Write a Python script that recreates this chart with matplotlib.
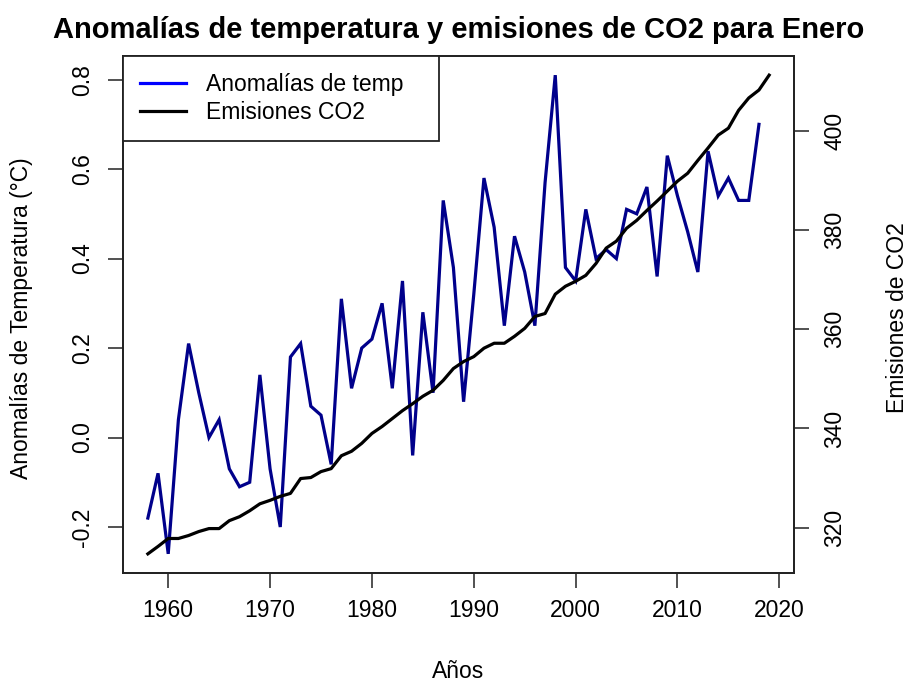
import matplotlib
matplotlib.use('Agg')
import matplotlib.pyplot as plt
from matplotlib.lines import Line2D

plt.rcParams['font.family'] = ['Liberation Sans', 'DejaVu Sans']

# ---------------- data ----------------
years_temp = list(range(1958, 2019))
temp_anom = [-0.18, -0.08, -0.26, 0.04, 0.21, 0.10, 0.00, 0.04, -0.07, -0.11,
             -0.10, 0.14, -0.07, -0.20, 0.18, 0.21, 0.07, 0.05, -0.06, 0.31,
             0.11, 0.20, 0.22, 0.30, 0.11, 0.35, -0.04, 0.28, 0.10, 0.53,
             0.38, 0.08, 0.32, 0.58, 0.47, 0.25, 0.45, 0.37, 0.25, 0.57,
             0.81, 0.38, 0.35, 0.51, 0.40, 0.42, 0.40, 0.51, 0.50, 0.56,
             0.36, 0.63, 0.54, 0.46, 0.37, 0.64, 0.54, 0.58, 0.53, 0.53,
             0.70]

years_co2 = list(range(1958, 2020))
co2 = [314.7, 316.2, 317.8, 317.8, 318.4, 319.2, 319.8, 319.8, 321.4, 322.2,
       323.4, 324.8, 325.5, 326.3, 326.9, 329.9, 330.1, 331.3, 331.9, 334.5,
       335.4, 337.0, 339.0, 340.4, 342.0, 343.6, 345.0, 346.5, 347.7, 349.7,
       352.1, 353.5, 354.5, 356.2, 357.2, 357.2, 358.6, 360.2, 362.6, 363.2,
       367.1, 368.7, 369.7, 370.9, 373.3, 376.4, 377.8, 380.4, 382.0, 384.0,
       385.9, 387.9, 389.9, 391.5, 394.1, 396.6, 399.2, 400.6, 404.2, 406.7,
       408.3, 411.3]

x_ticks = [1960, 1970, 1980, 1990, 2000, 2010, 2020]
temp_ticks = [-0.2, 0.0, 0.2, 0.4, 0.6, 0.8]
temp_tick_labels = ['-0.2', '0.0', '0.2', '0.4', '0.6', '0.8']
co2_ticks = [320, 340, 360, 380, 400]

title = 'Anomalías de temperatura y emisiones de CO2 para Enero'
xlabel = 'Años'
ylabel_left = 'Anomalías de Temperatura (°C)'
ylabel_right = 'Emisiones de CO2'
legend_labels = ['Anomalías de temp', 'Emisiones CO2']

# ---------------- figure ----------------
W, H = 909, 684
fig = plt.figure(figsize=(W / 100, H / 100), dpi=100)
L, R, T, B = 123, 794, 56, 573
ax = fig.add_axes([L / W, 1 - B / H, (R - L) / W, (B - T) / H])
ax2 = ax.twinx()

fs = 16.5
lw_box = 1.3

def pad_range(lo, hi, f=0.04):
    d = (hi - lo) * f
    return lo - d, hi + d

all_years = years_temp + years_co2
ax.set_xlim(*pad_range(min(all_years), max(all_years)))
ax.set_ylim(*pad_range(min(temp_anom), max(temp_anom)))
ax2.set_ylim(*pad_range(min(co2), max(co2)))

ax.plot(years_temp, temp_anom, color='#00008B', lw=2.3, solid_joinstyle='miter')
ax2.plot(years_co2, co2, color='black', lw=2.3)

ax.set_xticks(x_ticks)
ax.set_xticklabels([str(v) for v in x_ticks])
ax.set_yticks(temp_ticks)
ax.set_yticklabels(temp_tick_labels)
ax2.set_yticks(co2_ticks)
ax2.set_yticklabels([str(v) for v in co2_ticks])

for a in (ax, ax2):
    for s in a.spines.values():
        s.set_linewidth(lw_box)
        s.set_color('#222222')
    a.tick_params(length=11, width=1.1, color='#222222', labelsize=fs)

ax.tick_params(axis='x', pad=8)
ax.tick_params(axis='y', pad=10)
ax2.tick_params(axis='y', pad=10)
for lab in ax.get_yticklabels():
    lab.set_rotation(90)
    lab.set_va('center')
for lab in ax2.get_yticklabels():
    lab.set_rotation(90)
    lab.set_va('center')

fig.text((L + R) / 2 / W, 1 - 30 / H, title, ha='center', va='center',
         fontsize=21, fontweight='bold')
fig.text((L + R) / 2 / W, 1 - 671 / H, xlabel, ha='center', va='center', fontsize=fs)
fig.text(22 / W, 1 - 318 / H, ylabel_left, ha='center', va='center',
         rotation=90, fontsize=fs)
fig.text(897 / W, 1 - 318 / H, ylabel_right, ha='center', va='center',
         rotation=90, fontsize=fs)

handles = [Line2D([], [], color='#0000FF', lw=2.3),
           Line2D([], [], color='black', lw=2.3)]
leg = fig.legend(handles, [legend_labels[0] + '   ', legend_labels[1]],
                 loc='upper left',
                 bbox_to_anchor=(L / W, 1 - T / H), borderaxespad=0,
                 fontsize=fs, frameon=True, fancybox=False, framealpha=1,
                 edgecolor='#222222', handlelength=2.0, handletextpad=0.85,
                 borderpad=0.75, labelspacing=0.2)
leg.get_frame().set_linewidth(lw_box)

fig.savefig('out.png', dpi=100)
